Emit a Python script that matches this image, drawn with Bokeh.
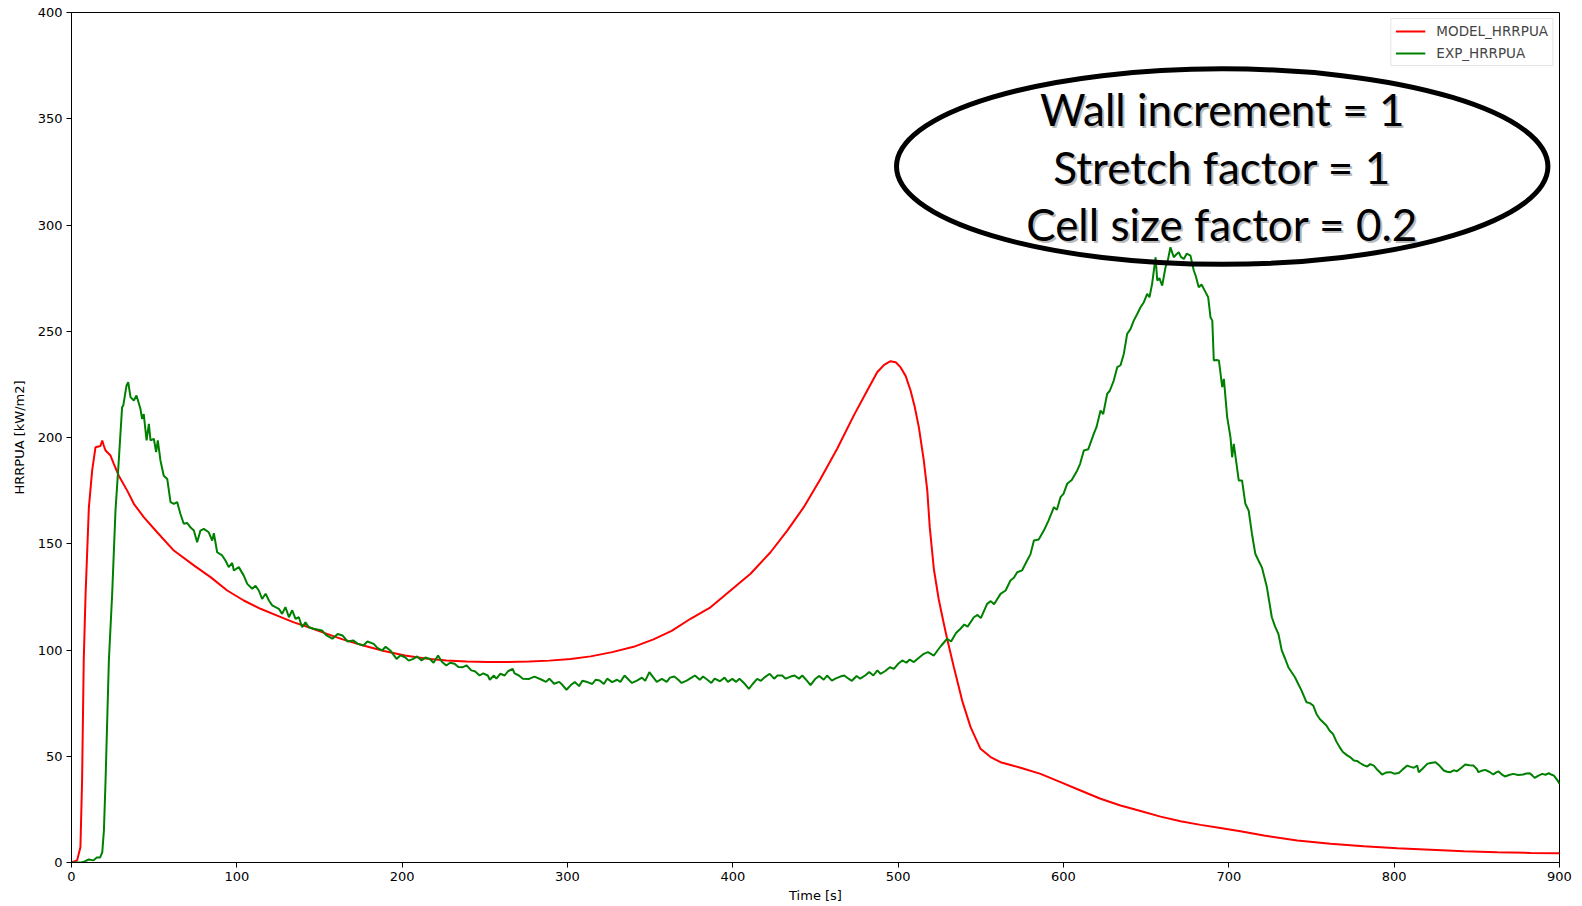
from bokeh.plotting import figure
from bokeh.models import Range1d, Legend, LegendItem, FixedTicker
from bokeh.core.properties import value
from bokeh.embed import file_html
from bokeh.resources import INLINE

# ---- data -------------------------------------------------------------
model_t = [0, 3.4, 5.4, 6.4, 7.4, 8.5, 10.5, 12.5, 14.5, 17.5, 18.6, 19.6, 20.6,
           23.6, 25.6, 28.6, 33.7, 37.7, 43.7, 51.8, 61.9, 74, 84.1, 94.2, 104.2,
           114.3, 124.4, 134.5, 143.5, 151.5, 164, 176.5, 189, 201.7, 214, 226.7,
           239, 251.8, 264, 276.8, 289, 301.9, 314, 327, 340, 352, 363, 374.4, 386.5,
           398.6, 410.7, 422.8, 432.9, 442.9, 453, 463.1, 473.2, 481.3, 487.3, 491.5,
           495.4, 498.5, 501.4, 504.5, 507.5, 510, 512.5, 515.5, 517.6, 519.1, 521.6,
           524.5, 527.2, 529.6, 533.7, 538.7, 543.8, 549.8, 555.9, 561.9, 568, 574,
           586.1, 598.2, 610.3, 622.4, 634.5, 646.6, 658.7, 670.8, 682.9, 694.9, 707,
           721.2, 741.4, 761.5, 781.6, 801.8, 822, 842.1, 862.3, 882.5, 900]
model_hrrpua = [0, 1, 7.2, 38.6, 95, 126, 167, 184.5, 195.4, 196, 198.6, 196, 193.9,
                191.5, 187.6, 182, 175, 168.8, 162.5, 155.4, 146.8, 139.8, 134.3, 128,
                123.3, 119.4, 116.2, 113, 110.7, 108.4, 105, 102.1, 99.5, 97.4, 96, 95.1,
                94.6, 94.3, 94.3, 94.6, 95, 95.8, 97, 99, 101.5, 105, 109, 114.7, 120.1,
                128, 135.9, 146, 156.2, 167.2, 180.5, 194.7, 210.4, 222.1, 230.7, 234.2,
                235.9, 235.4, 233.1, 229, 222.1, 214.5, 204.9, 189.2, 175.1, 157.8, 138,
                124, 113.9, 105.3, 91.9, 76.2, 63.7, 53.5, 49.6, 47.2, 45.9, 44.6, 41.7,
                37.8, 33.9, 30, 26.8, 24.2, 21.6, 19.4, 17.7, 16.2, 14.7, 12.7, 10.4, 8.8,
                7.7, 6.7, 6, 5.3, 4.8, 4.5, 4.4]

exp_t = [0, 3, 6, 8, 10.5, 13.3, 15.3, 17.3, 18.6, 19.6, 20.6, 22.6, 24.6, 26.6, 28.6,
         30.6, 31.3, 33.3, 34.3, 35.7, 37.7, 39.3, 41.7, 42.7, 43.7, 45.4, 46.8, 47.8,
         49.8, 51.2, 52.2, 53.8, 55.8, 57.9, 59.9, 61.9, 63.9, 65.9, 67.9, 69.9, 71.9,
         74, 76, 78, 80, 83, 85.1, 86.1, 88.1, 91.1, 93.1, 95.1, 97.2, 98.2, 101.2,
         104.2, 106.3, 109.3, 111.3, 113.3, 115.3, 117.4, 119.4, 121.4, 123.4, 125.4,
         127.4, 129.4, 131.5, 133.5, 135.5, 137.5, 139.5, 141.5, 143.5, 146.5, 151.5,
         154, 157.8, 161, 164, 167, 170.3, 173, 176.5, 179, 182.8, 185, 187.8, 190,
         192.8, 196.6, 199, 201.7, 204, 206.7, 209, 211.7, 214, 216.7, 219, 221.7, 224,
         226.7, 229, 231.7, 234, 236.7, 239, 241.8, 244, 246.8, 249, 251.8, 253, 255.5,
         257, 259.3, 262, 264, 266.8, 268, 270.6, 273, 276.8, 280, 284.4, 287, 289,
         291.9, 295, 297, 299.4, 302, 304.4, 307, 309, 312, 315, 317, 319.5, 322, 324,
         327, 330, 332, 334.5, 337, 339, 342, 345, 347, 349.5, 352, 354, 357.1, 360,
         362, 364.6, 367, 369, 372.1, 375, 377.1, 380, 382, 384.6, 387, 389, 392.2, 395,
         397, 399.7, 402, 404, 407.2, 409.7, 412, 414.7, 417, 419, 422.3, 425, 427,
         429.8, 432, 435, 437.3, 440, 442, 444.8, 447, 450, 452.3, 455, 457, 459.9, 462,
         465, 467.4, 470, 472, 474.9, 477, 480, 482.5, 485, 487.4, 489.3, 492, 495,
         497.4, 500, 502.5, 505, 507, 509.5, 512, 515.5, 518, 521.6, 524, 526, 529.6,
         532, 535, 537.7, 540, 542, 545.8, 548, 550, 553.8, 556, 558, 561.9, 565, 567.9,
         570, 572, 575, 578, 580, 582.1, 585, 588.1, 591, 594.2, 596, 598.2, 600, 602.2,
         605, 608.3, 610, 612.3, 615, 618.3, 620, 622.4, 624, 626.4, 628, 630.4, 632.5,
         634.5, 636.5, 638.5, 640.5, 642.5, 644.5, 646.6, 648.5, 650.6, 652, 653.6,
         655.7, 656.7, 658, 659.7, 661.7, 663, 664.7, 666.7, 668, 669.7, 671, 672.8,
         674.5, 676.8, 678.8, 680, 681.8, 683.5, 685.9, 687.5, 688.9, 690, 690.9, 692.5,
         694, 695, 696, 697, 699, 701, 702, 703, 706, 708, 710, 712, 714, 716, 718, 720,
         723, 726, 728, 730, 732, 734, 736, 738, 740, 742, 744, 747, 749, 751, 753, 755,
         757, 759, 761, 763, 765, 767, 769, 771.6, 773.5, 775.6, 777.5, 779.6, 781.5,
         783.7, 785.5, 787.7, 790, 792.7, 795, 797.8, 800, 802.8, 805, 807.9, 810, 811.9,
         813.9, 814.9, 817, 820, 822, 825, 827.5, 830, 832, 834, 836, 838, 840.5, 843,
         845.5, 848, 850, 851, 853, 855, 857.5, 860, 861.5, 863, 865, 867, 869.5, 872,
         875, 878, 880, 882, 883.5, 885, 887, 889.5, 891.5, 893.5, 895, 896.6, 898,
         899.6, 900]
exp_hrrpua = [0, 0, 0, 0.5, 1.4, 1.0, 2.4, 2.4, 4.8, 15, 38.6, 95, 126.4, 165.6, 189.2,
              214.3, 215, 224.5, 226, 219, 217.4, 219.8, 213.5, 208.8, 211, 198.6, 206.4,
              198.6, 199.4, 193.1, 198.6, 189.2, 182, 180.5, 169.6, 168.8, 169.6, 164,
              159.4, 159.8, 157.8, 156.2, 150.7, 156.2, 157, 155.4, 151.5, 155, 146, 144.5,
              142.1, 139, 141, 137.4, 139, 135, 131.1, 128.8, 130.2, 128, 124, 126.5, 123.3,
              121, 120.2, 119.4, 117, 120.2, 115.4, 118.7, 114.7, 115.4, 110.7, 113, 110.7,
              110, 109.2, 107, 105.3, 107.5, 106.8, 104, 104.5, 103, 102.1, 104, 102.9, 101,
              99.8, 101.5, 99.8, 95.8, 97.5, 96.6, 95, 95.8, 97, 95.1, 96.5, 95.8, 94, 97.4,
              94.5, 92.7, 94, 93.5, 92, 91.9, 92.8, 90.4, 90, 88, 89, 88, 86, 88, 86.5, 88.8,
              88, 90, 91.1, 89, 88, 86.5, 86.4, 87.5, 86, 85, 86.5, 84.1, 85, 83.5, 81.3,
              83.5, 84.9, 83, 85.5, 84.9, 84, 86, 85.6, 84, 86.5, 84.9, 86, 85, 88, 86, 84.5,
              85.6, 87, 85.5, 89.6, 87, 85, 86.4, 85, 87, 87.5, 86, 84.5, 85.6, 87, 88, 86,
              87.5, 86, 84.5, 86.5, 85.3, 87, 85, 86.4, 85, 86.5, 84.1, 81.7, 84, 86.4, 85.5,
              87, 88.8, 86.5, 88, 88, 86.5, 87.5, 88, 86.5, 88, 85.6, 83.5, 86.5, 87.8, 86,
              88, 85.6, 86.5, 87.5, 88, 86.5, 85.5, 87.8, 86.5, 88, 89.6, 88, 90.4, 88.8, 90,
              91.9, 91.1, 93.5, 95.1, 94, 95.5, 94.3, 96, 98.2, 99, 97.4, 100, 102, 105.3,
              104, 108, 110, 112, 111, 115.4, 116.5, 115, 121.7, 123, 121.5, 126.4, 128,
              132.7, 134, 136.6, 137.5, 142.1, 145, 151.5, 152, 156.2, 161, 167.2, 166,
              171.9, 173.5, 178.2, 180, 184.5, 187.5, 193.9, 194.5, 201.7, 205, 212.7, 211,
              220.5, 222, 226.8, 233.1, 234, 239.4, 248.8, 251, 255, 258, 261.3, 263.5,
              267.6, 266, 272.3, 284.8, 273.9, 275, 271.5, 280.1, 283, 289.5, 284.8, 286,
              287.2, 285, 284, 286.5, 285.6, 278.6, 276, 270.7, 272, 268.4, 266, 256.6, 255,
              236.2, 236.5, 236.2, 230, 223.7, 227.6, 209.6, 200.1, 190.7, 197, 179.8, 179.8,
              168.8, 165.6, 154.6, 145.3, 142, 138.9, 129.6, 115.4, 111, 107.5, 99.8, 96,
              91.9, 89.5, 87.2, 84, 80.9, 75.4, 75, 73.9, 69.9, 67.5, 66, 64.5, 62, 60.5, 57,
              54.3, 52, 50.4, 49.5, 48, 47.8, 46.7, 45.8, 45.2, 46.3, 45.6, 43.5, 41.4, 42.3,
              42.5, 41.8, 42.1, 43.7, 45.6, 45, 44.6, 45.6, 42.5, 44, 46.4, 46.8, 47.2, 45.5,
              43.3, 42.7, 42.5, 43.4, 42.9, 44.5, 46.1, 45.8, 45.6, 44, 42.5, 43.2, 43.6,
              42.7, 41.4, 42.3, 42.9, 41.5, 40.5, 41.2, 41.7, 41.2, 41.4, 41.9, 42, 41, 39.8,
              40.8, 41.7, 41.3, 42, 41.4, 40.9, 39.5, 37.7, 37]

x_ticks = [0, 100, 200, 300, 400, 500, 600, 700, 800, 900]
y_ticks = [0, 50, 100, 150, 200, 250, 300, 350, 400]

series_labels = ["MODEL_HRRPUA", "EXP_HRRPUA"]
note_lines = ["Wall increment = 1", "Stretch factor = 1", "Cell size factor = 0.2"]

# ---- figure -----------------------------------------------------------
p = figure(width=1582, height=906, output_backend="svg", toolbar_location=None,
           x_range=Range1d(0, 900), y_range=Range1d(0, 400),
           min_border_left=71, min_border_right=23, min_border_top=12,
           min_border_bottom=44)
p.background_fill_color = "white"
p.border_fill_color = "white"
p.grid.visible = False
p.outline_line_color = "black"
p.outline_line_width = 1
p.outline_line_alpha = 1

for ax in (p.xaxis[0], p.yaxis[0]):
    ax.axis_line_color = "black"
    ax.major_tick_line_color = "black"
    ax.major_tick_out = 5
    ax.major_tick_in = 0
    ax.minor_tick_line_color = None
    ax.major_label_text_font = "DejaVu Sans"
    ax.major_label_text_font_size = "13px"
    ax.major_label_text_color = "black"
    ax.axis_label_text_font = "DejaVu Sans"
    ax.axis_label_text_font_size = "13px"
    ax.axis_label_text_font_style = "normal"
    ax.axis_label_text_color = "black"

p.xaxis.ticker = FixedTicker(ticks=x_ticks)
p.yaxis.ticker = FixedTicker(ticks=y_ticks)
p.xaxis.axis_label = "Time [s]"
p.yaxis.axis_label = "HRRPUA [kW/m2]"
p.xaxis.major_label_standoff = 4
p.xaxis.axis_label_standoff = 4
p.yaxis.major_label_standoff = 4
p.yaxis.axis_label_standoff = 8

r_model = p.line(model_t, model_hrrpua, line_color="#ff0000", line_width=2)
r_exp = p.line(exp_t, exp_hrrpua, line_color="#008000", line_width=2)

# ---- annotation bubble ------------------------------------------------
bubble_x, bubble_y = 696.0, 327.5
bubble_w, bubble_h = 394.0, 92.0
line_gap = 27.1
p.ellipse(x=[bubble_x], y=[bubble_y], width=[bubble_w], height=[bubble_h],
          fill_color=None, line_color="black", line_width=5)

note_y = [bubble_y + line_gap, bubble_y, bubble_y - line_gap]
note_x = [bubble_x] * len(note_lines)
p.text(x=note_x, y=note_y, text=note_lines, text_font=value("Lato"),
       text_font_size="44px", text_align="center", text_baseline="middle",
       text_color="#808080", text_alpha=0.55, x_offset=2, y_offset=2)
p.text(x=note_x, y=note_y, text=note_lines, text_font=value("Lato"),
       text_font_size="44px", text_align="center", text_baseline="middle",
       text_color="black")

# ---- legend -----------------------------------------------------------
legend = Legend(items=[LegendItem(label=series_labels[0], renderers=[r_model]),
                       LegendItem(label=series_labels[1], renderers=[r_exp])],
                location="top_right", margin=6, padding=4, spacing=6,
                glyph_width=30, glyph_height=14, label_standoff=11,
                label_text_font="DejaVu Sans", label_text_font_size="13.5px",
                label_height=14,
                border_line_color="#cccccc", border_line_width=1,
                background_fill_color="white", background_fill_alpha=0.8)
p.add_layout(legend)

open("out.html", "w").write(file_html(p, INLINE))
